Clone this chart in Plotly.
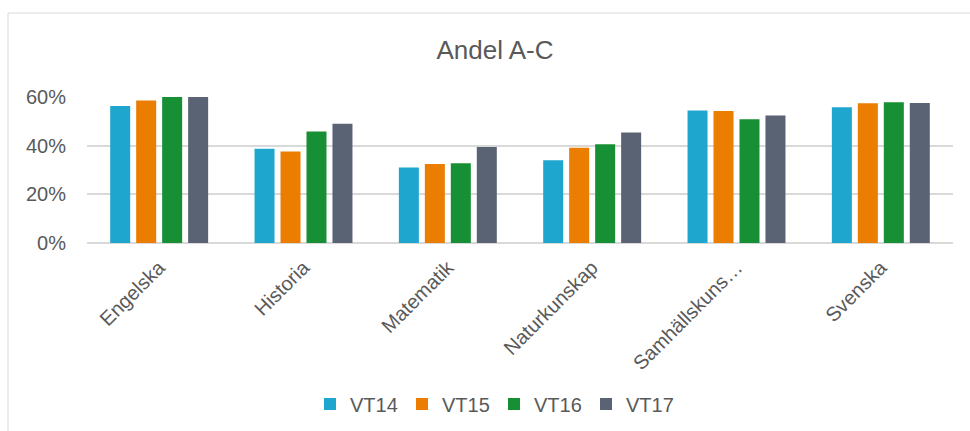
import plotly.graph_objects as go

categories = ["Engelska", "Historia", "Matematik", "Naturkunskap", "Samhällskuns…", "Svenska"]
series_names = ["VT14", "VT15", "VT16", "VT17"]
vt14 = [0.563, 0.387, 0.310, 0.340, 0.545, 0.558]
vt15 = [0.586, 0.376, 0.325, 0.391, 0.542, 0.574]
vt16 = [0.600, 0.458, 0.328, 0.406, 0.509, 0.578]
vt17 = [0.600, 0.490, 0.395, 0.454, 0.524, 0.575]
colors = ["#1FA6CF", "#EB7D00", "#168F35", "#5A6374"]

W, H = 970, 431
ml, mr, mt, mb = 87, 17, 97, 188
pw, ph = W - ml - mr, H - mt - mb

fig = go.Figure()
for name, vals, c in zip(series_names, [vt14, vt15, vt16, vt17], colors):
    fig.add_trace(go.Bar(x=categories, y=vals, name=name, marker=dict(color=c, line=dict(width=0))))

font_family = "Liberation Sans, Arial, sans-serif"
grey = "#595959"

fig.update_layout(
    width=W, height=H,
    margin=dict(l=ml, r=mr, t=mt, b=mb, autoexpand=False),
    paper_bgcolor="white", plot_bgcolor="white",
    barmode="group", bargap=0.28, bargroupgap=0.23,
    font=dict(family=font_family, color=grey, size=20),
    title=dict(text="Andel A-C", x=495 / W, xanchor="center", xref="container",
               y=1 - 50 / H, yanchor="middle", font=dict(size=26, color=grey)),
    showlegend=True,
    legend=dict(orientation="h", x=(494 - ml) / pw, xanchor="center",
                y=(H - 404 - mb) / ph, yanchor="middle", entrywidth=47, entrywidthmode="pixels",
                font=dict(size=20, color=grey), traceorder="normal"),
    xaxis=dict(tickangle=-45, showgrid=False, showline=False, ticks="", automargin=False,
               tickfont=dict(size=20, color=grey), ticklabelstandoff=8),
    yaxis=dict(range=[0, 0.6], tickvals=[0, 0.2, 0.4, 0.6], tickformat=".0%",
               showgrid=True, gridcolor="#D9D9D9", gridwidth=1.5,
               zeroline=True, zerolinecolor="#D9D9D9", zerolinewidth=1.5,
               showline=False, ticks="", automargin=False,
               tickfont=dict(size=20, color=grey), ticklabelstandoff=20),
    shapes=[dict(type="rect", xref="paper", yref="paper",
                 x0=(8 - ml) / pw, x1=(W + 20 - ml) / pw,
                 y0=(H - (H + 20) - mb) / ph, y1=(H - 13 - mb) / ph,
                 line=dict(color="#D9D9D9", width=1), fillcolor="rgba(0,0,0,0)", layer="below")],
)

fig.write_html("out.html", config={"displayModeBar": False},
               post_script="document.body.style.margin='0';document.body.style.overflow='hidden';")
